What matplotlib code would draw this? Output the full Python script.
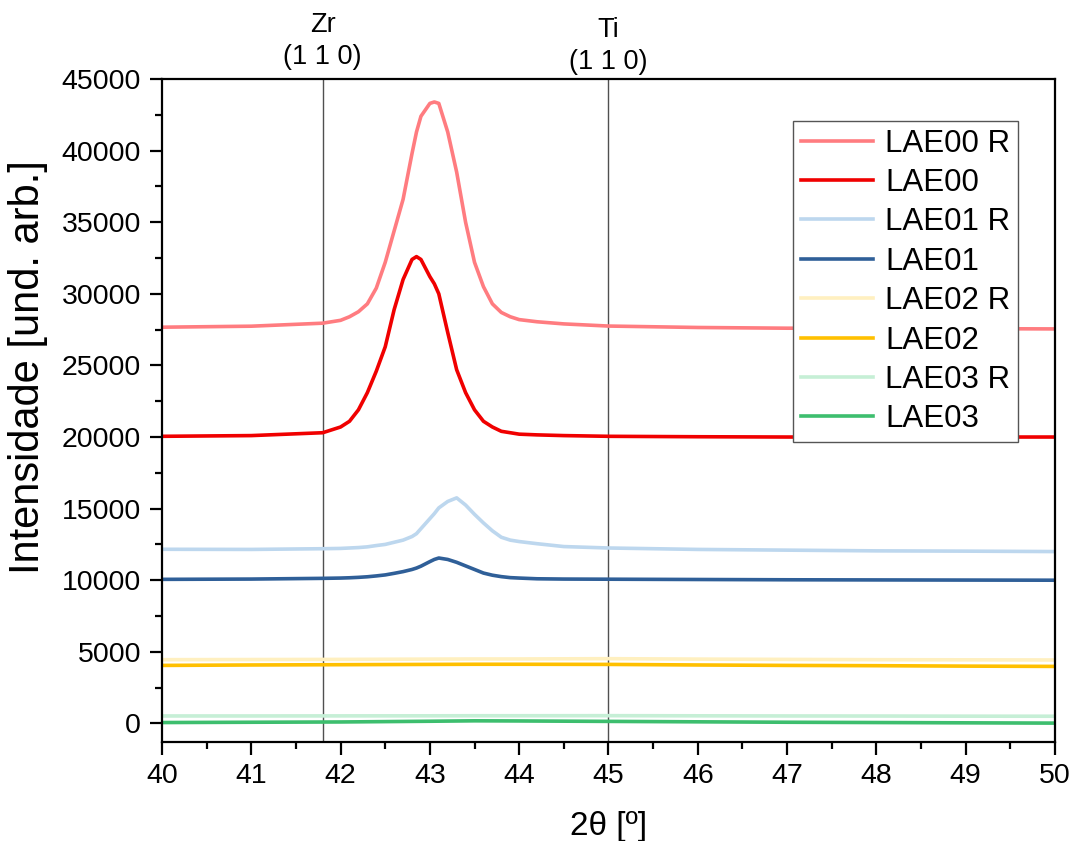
import matplotlib
matplotlib.use("Agg")
import matplotlib.pyplot as plt
from matplotlib.ticker import MultipleLocator
from matplotlib.transforms import blended_transform_factory

plt.rcParams["font.family"] = ["Liberation Sans", "DejaVu Sans"]

# 2theta grid around the (1 1 0) peaks, and a coarse grid for the flat samples
two_theta = [40.0, 41.0, 41.8, 42.0, 42.1, 42.2, 42.3, 42.4, 42.5, 42.6, 42.7, 42.8, 42.85,
             42.9, 43.0, 43.05, 43.1, 43.2, 43.3, 43.4, 43.5, 43.6, 43.7, 43.8, 43.9, 44.0,
             44.2, 44.5, 45.0, 46.0, 47.0, 48.0, 49.0, 50.0]
two_theta_flat = [40.0, 41.0, 42.0, 43.0, 43.5, 44.0, 45.0, 46.0, 47.0, 48.0, 49.0, 50.0]

lae00_r = [27670, 27740, 27950, 28150, 28400, 28750, 29300, 30400, 32200, 34400, 36600, 39800, 41300,
           42400, 43300, 43400, 43300, 41300, 38500, 35000, 32200, 30500, 29300, 28700, 28400, 28200,
           28050, 27900, 27750, 27650, 27600, 27600, 27570, 27550]
lae00 = [20050, 20100, 20300, 20700, 21100, 21900, 23100, 24600, 26300, 28900, 31000, 32400, 32600,
         32400, 31200, 30700, 30000, 27300, 24700, 23100, 21900, 21100, 20700, 20400, 20300, 20200,
         20150, 20100, 20050, 20020, 20000, 20000, 20000, 20000]
lae01_r = [12160, 12150, 12200, 12220, 12250, 12280, 12330, 12420, 12500, 12650, 12800, 13050, 13250,
           13600, 14300, 14650, 15050, 15500, 15750, 15250, 14600, 14000, 13450, 13000, 12800, 12700,
           12550, 12350, 12250, 12150, 12100, 12050, 12030, 12000]
lae01 = [10060, 10080, 10130, 10150, 10170, 10200, 10240, 10300, 10370, 10480, 10600, 10750, 10850,
         10980, 11300, 11450, 11550, 11450, 11250, 11000, 10750, 10500, 10350, 10250, 10180, 10150,
         10100, 10080, 10070, 10050, 10030, 10020, 10010, 10000]
lae02_r = [4450, 4460, 4470, 4490, 4500, 4500, 4520, 4490, 4470, 4450, 4440, 4430]
lae02 = [4050, 4080, 4100, 4120, 4130, 4130, 4120, 4080, 4050, 4030, 4000, 3980]
lae03_r = [520, 520, 525, 530, 535, 535, 540, 530, 520, 515, 505, 500]
lae03 = [60, 80, 100, 150, 180, 170, 140, 110, 80, 60, 40, 20]

peak_lines = [41.8, 45.0]
peak_labels = ["Zr\n(1 1 0)", "Ti\n(1 1 0)"]
peak_label_y = [1.058, 1.050]

series = [
    ("LAE00 R", two_theta, lae00_r, "#FF7C80"),
    ("LAE00", two_theta, lae00, "#F00000"),
    ("LAE01 R", two_theta, lae01_r, "#BDD7EE"),
    ("LAE01", two_theta, lae01, "#2F5F98"),
    ("LAE02 R", two_theta_flat, lae02_r, "#FFF0C0"),
    ("LAE02", two_theta_flat, lae02, "#FFC000"),
    ("LAE03 R", two_theta_flat, lae03_r, "#C6EFD6"),
    ("LAE03", two_theta_flat, lae03, "#3DBE6E"),
]

fig = plt.figure(figsize=(10.72, 8.41), dpi=100)
ax = fig.add_axes([0.1511, 0.1177, 0.833, 0.7883])

for label, x, y, color in series:
    ax.plot(x, y, color=color, lw=2.6, label=label, solid_joinstyle="round")

trans = blended_transform_factory(ax.transData, ax.transAxes)
for pos, text, ty in zip(peak_lines, peak_labels, peak_label_y):
    ax.axvline(pos, color="#505050", lw=1.0, zorder=0)
    ax.text(pos, ty, text, transform=trans, ha="center", va="center",
            fontsize=19.5, linespacing=1.3)

ax.set_xlim(40, 50)
ax.set_ylim(-1300, 45000)
ax.xaxis.set_major_locator(MultipleLocator(1))
ax.xaxis.set_minor_locator(MultipleLocator(0.5))
ax.yaxis.set_major_locator(MultipleLocator(5000))
ax.yaxis.set_minor_locator(MultipleLocator(2500))
ax.tick_params(which="major", direction="out", length=9, width=1.6, labelsize=20.5, pad=6)
ax.tick_params(which="minor", direction="out", length=5, width=1.6)
for side in ["left", "bottom", "right", "top"]:
    ax.spines[side].set_linewidth(1.6)

ax.set_xlabel("2θ [º]", fontsize=24, labelpad=16)
ax.set_ylabel("Intensidade [und. arb.]", fontsize=30)
ax.yaxis.set_label_coords(-0.128, 0.566)

leg = ax.legend(loc="upper right", bbox_to_anchor=(0.959, 0.937), fontsize=22.5,
                frameon=True, fancybox=False, edgecolor="#555555", framealpha=1,
                handlelength=2.3, handletextpad=0.4, labelspacing=0.3, borderpad=0.25,
                borderaxespad=0)
leg.get_frame().set_linewidth(1.0)

fig.savefig("out.png", dpi=100)
